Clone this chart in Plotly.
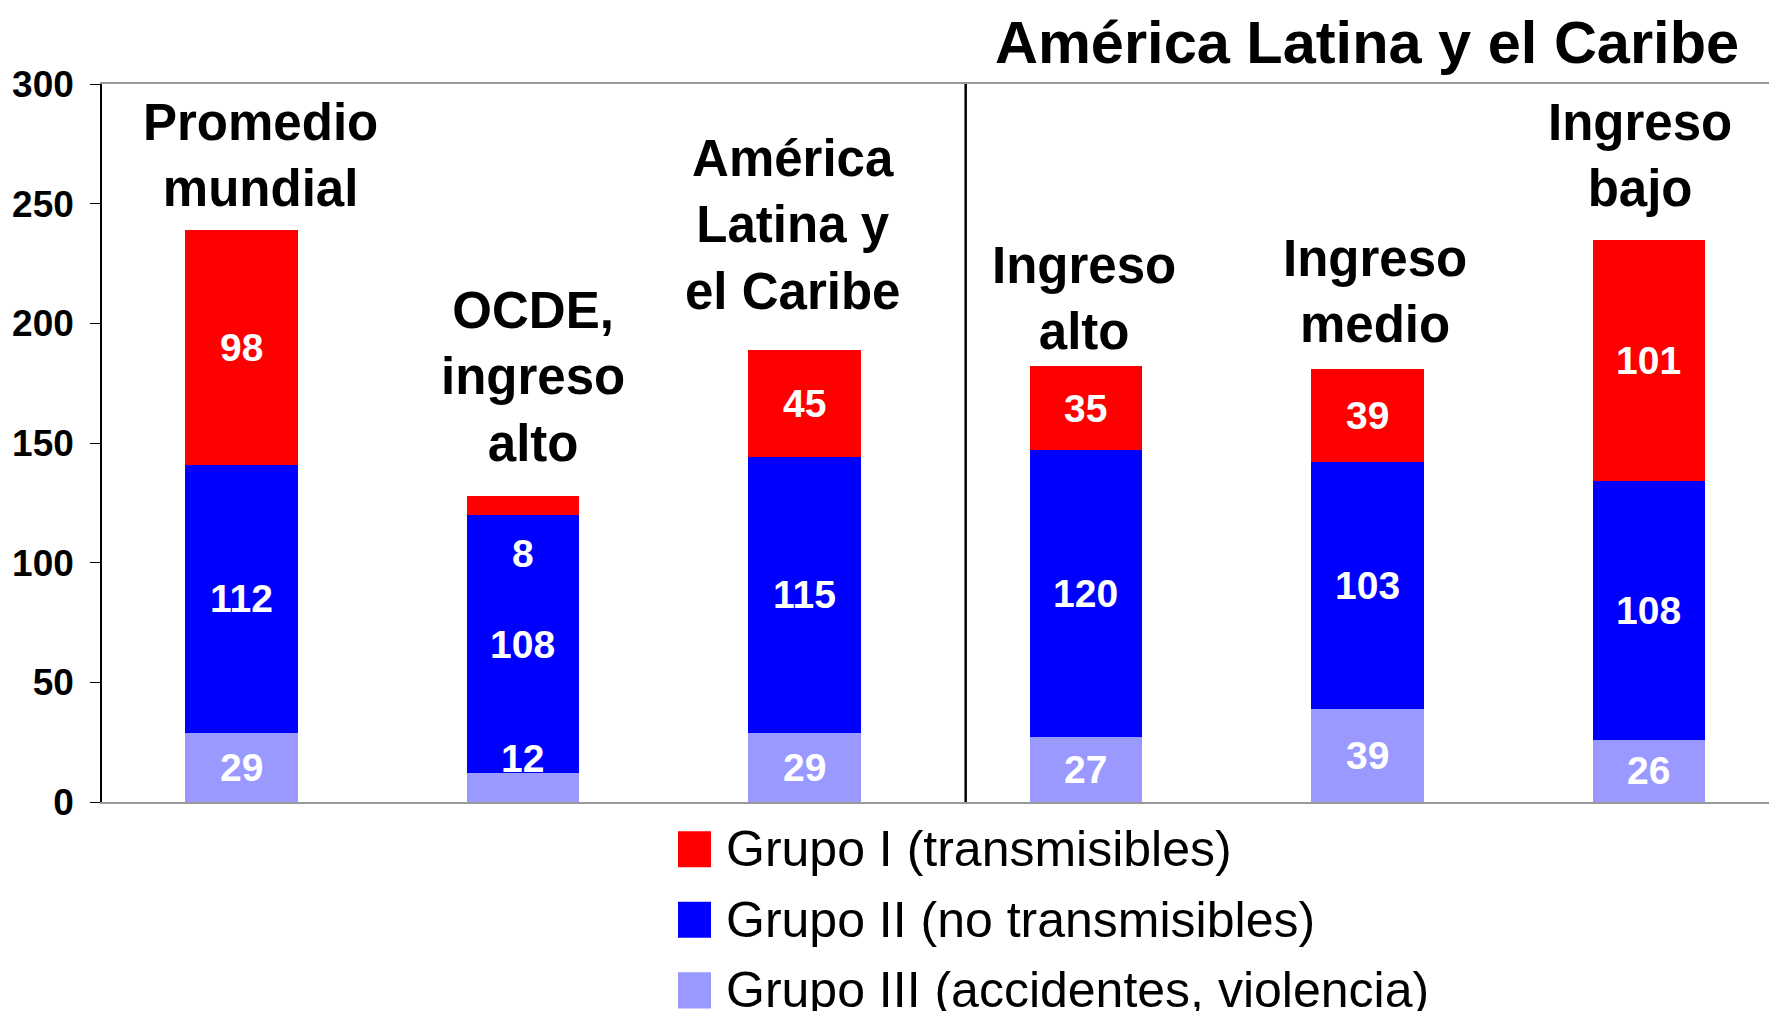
import plotly.graph_objects as go

# Mortalidad por grupo de causas (tasas), regiones y niveles de ingreso
categorias = ["Promedio<br>mundial", "OCDE,<br>ingreso<br>alto", "América<br>Latina y<br>el Caribe",
              "Ingreso<br>alto", "Ingreso<br>medio", "Ingreso<br>bajo"]
grupo_iii = [29, 12, 29, 27, 39, 26]
grupo_ii = [112, 108, 115, 120, 103, 108]
grupo_i = [98, 8, 45, 35, 39, 101]
series_nombres = ["Grupo III (accidentes, violencia)", "Grupo II (no transmisibles)", "Grupo I (transmisibles)"]
y_ticks = [0, 50, 100, 150, 200, 250, 300]
titulo = "América Latina y el Caribe"

FONT = "Liberation Sans, Arial, sans-serif"
colores = ["#9999FF", "#0000FF", "#FF0000"]
xs = list(range(len(categorias)))

# la página html añade 8px de margen al cuerpo: se compensa aquí
OFF = 8
PL, PT, PW, PH = 102 - OFF, 84 - OFF, 1675, 717.7
W, H = 1777 - OFF, 1011 - OFF

# ajustes finos (px) de las etiquetas de categoría, como en el original
etiq_dx = [19, 10, -12, -2, 8, -9]
etiq_dy = [11, 22, 28, 4, 14, 21]

fig = go.Figure()
for nombre, vals, col in zip(series_nombres, [grupo_iii, grupo_ii, grupo_i], colores):
    fig.add_trace(go.Bar(x=xs, y=vals, name=nombre, marker=dict(color=col, line=dict(width=0)),
                         width=0.4, showlegend=False, hoverinfo="skip"))

anns = []
# etiquetas de valores dentro de las barras
for i in xs:
    segs = [grupo_iii[i], grupo_ii[i], grupo_i[i]]
    base = 0
    for k, v in enumerate(segs):
        y = base + v / 2
        if v < 15:
            # segmento pequeño: la etiqueta va dentro del segmento azul contiguo
            y = base + v + 6 if k == 0 else base - 16
        anns.append(dict(x=i, y=y, xref="x", yref="y", text=str(v), showarrow=False,
                         font=dict(family=FONT, size=39, color="white", weight="bold")))
        base += v
    total = sum(segs)
    anns.append(dict(x=i, y=total, xref="x", yref="y", text=categorias[i], showarrow=False,
                     yanchor="bottom", xshift=etiq_dx[i], yshift=etiq_dy[i],
                     font=dict(family=FONT, size=51, color="black", weight="bold")))

anns.append(dict(x=4, y=1.058, xref="x", yref="paper", text=titulo, showarrow=False,
                 yanchor="middle", font=dict(family=FONT, size=59.5, color="black", weight="bold")))

# leyenda dibujada a mano (cuadros grandes)
shapes = [dict(type="line", xref="x", yref="y", x0=2.573, x1=2.573, y0=0, y1=300,
               line=dict(color="black", width=2.5))]
leyenda = list(zip(series_nombres, colores))[::-1]
for j, (nombre, col) in enumerate(leyenda):
    yc = 849 + j * 70.5
    shapes.append(dict(type="rect", xref="paper", yref="paper",
                       x0=(678 - 102) / PW, x1=(711 - 102) / PW,
                       y0=(801.7 - (yc + 18)) / PH, y1=(801.7 - (yc - 18)) / PH,
                       fillcolor=col, line=dict(width=0)))
    anns.append(dict(x=(724 - 102) / PW, y=(801.7 - yc) / PH, xref="paper", yref="paper",
                     text=nombre, showarrow=False, xanchor="left", yanchor="middle",
                     font=dict(family=FONT, size=50, color="black")))

fig.update_layout(
    barmode="stack",
    width=W, height=H,
    margin=dict(l=PL, r=W - PL - PW, t=PT, b=H - PT - PH, autoexpand=False),
    plot_bgcolor="white", paper_bgcolor="white",
    annotations=anns, shapes=shapes,
    xaxis=dict(range=[-0.495, 5.455], showticklabels=False, showgrid=False, zeroline=False,
               showline=True, linecolor="#999999", linewidth=2, mirror=True, ticks=""),
    yaxis=dict(range=[0, 300], tickvals=y_ticks, showgrid=False, zeroline=False,
               showline=True, linecolor="black", linewidth=1.5, ticks="outside", ticklen=10,
               tickcolor="black", ticklabelstandoff=9,
               tickfont=dict(family=FONT, size=37, color="black", weight="bold")),
)

fig.write_html("out.html")
